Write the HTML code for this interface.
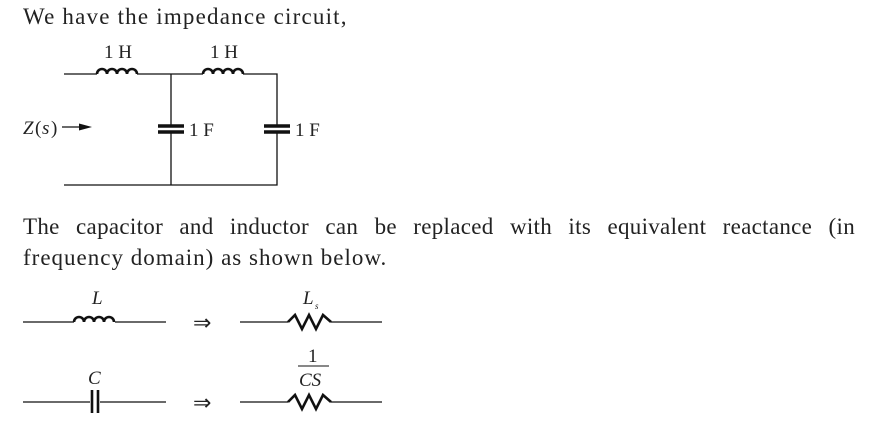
<!DOCTYPE html>
<html><head><meta charset="utf-8"><style>
body{margin:0;background:#fff;width:872px;height:430px;overflow:hidden;font-family:"Liberation Serif",serif;color:#222}
.t{position:absolute;left:23px;font-size:23px;letter-spacing:1px;line-height:26px}
</style></head><body>
<div class="t" style="top:4px;letter-spacing:1.2px">We have the impedance circuit,</div>
<div class="t" style="top:214px;width:832px;text-align:justify;text-align-last:justify;letter-spacing:0.3px">The capacitor and inductor can be replaced with its equivalent reactance (in</div>
<div class="t" style="top:245px">frequency domain) as shown below.</div>
<svg width="872" height="430" style="position:absolute;left:0;top:0" font-family="Liberation Serif, serif" fill="none" stroke="#111">
<g stroke-width="1.3">
<path d="M64 74H97M137 74H203M243 74H277V126M277 132V185H64M171 74V126M171 132V185"/>
</g>
<g stroke-width="2.6">
<path d="M97 74a5 5 0 0 1 10 0a5 5 0 0 1 10 0a5 5 0 0 1 10 0a5 5 0 0 1 10 0"/>
<path d="M203 74a5 5 0 0 1 10 0a5 5 0 0 1 10 0a5 5 0 0 1 10 0a5 5 0 0 1 10 0"/>
</g>
<g stroke-width="3.5">
<path d="M158 126H184M158 132H184M264 126H290M264 132H290"/>
</g>
<path d="M62 127H80" stroke-width="1.3"/><path d="M92 127L79 123.5V130.5Z" fill="#111" stroke="none"/>
<g fill="#222" stroke="none" font-size="19">
<text x="104" y="58">1 H</text><text x="210" y="58">1 H</text>
<text x="189" y="136">1 F</text><text x="295" y="136">1 F</text>
<text x="23" y="134" font-style="italic">Z</text><text x="35" y="134">(</text><text x="42" y="134" font-style="italic">s</text><text x="51" y="134">)</text>
<text x="92" y="304" font-style="italic">L</text>
<text x="303" y="304" font-style="italic">L</text><text x="315" y="309" font-size="9" font-style="italic">s</text>
<text x="88" y="384" font-style="italic">C</text>
<text x="308" y="362">1</text><text x="299" y="386" font-style="italic">CS</text>
<text x="193" y="330" font-size="22">⇒</text><text x="193" y="410" font-size="22">⇒</text>
</g>
<path d="M298 366H329" stroke-width="1"/>
<g stroke-width="1.3"><path d="M23 322H74M115 322H166M240 322H288M331 322H382M23 402H90M100 402H166M240 402H288M331 402H382"/></g>
<g stroke-width="2.6">
<path d="M74 322a5 5 0 0 1 10 0a5 5 0 0 1 10 0a5 5 0 0 1 10 0a5 5 0 0 1 10 0"/>
<path d="M288 322L295 315L302 329L309 315L316 329L323 315L331 322"/>
<path d="M288 402L295 395L302 409L309 395L316 409L323 395L331 402"/>
<path d="M92 390V413M98 390V413"/>
</g>
</svg>
</body></html>
